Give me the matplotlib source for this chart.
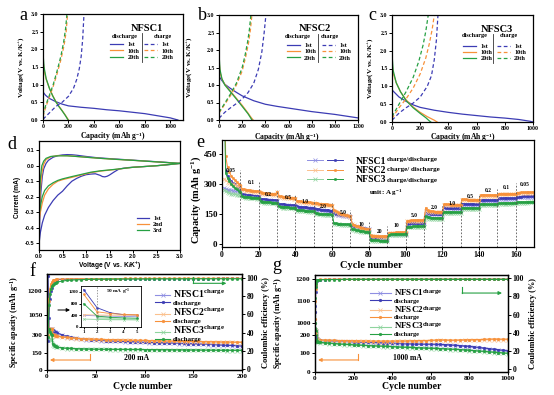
import numpy as np
import matplotlib
matplotlib.use('Agg')
import matplotlib.pyplot as plt
from matplotlib.legend_handler import HandlerTuple

plt.rcParams['font.family'] = ['Liberation Serif', 'DejaVu Serif']
plt.rcParams['font.weight'] = 'bold'
plt.rcParams['axes.labelweight'] = 'bold'
plt.rcParams['mathtext.default'] = 'regular'
plt.rcParams['axes.linewidth'] = 0.9

BLUE, ORANGE, GREEN = '#3c3cb4', '#f7913a', '#26a043'
BLUE_L, ORANGE_L, GREEN_L = '#8f8fe2', '#fbc18e', '#8fd49e'

# ---------------- data: panel a (NFSC1) ----------------
a_d1_q = [0, 5, 20, 50, 100, 150, 200, 300, 400, 500, 600, 700, 800, 900, 1000, 1060]
a_d1_v = [0.80, 0.77, 0.70, 0.61, 0.52, 0.45, 0.40, 0.36, 0.33, 0.29, 0.26, 0.22, 0.18, 0.12, 0.06, 0.0]
a_d10_q = [0, 3, 10, 25, 50, 75, 100, 125, 150, 175, 195, 200]
a_d10_v = [1.85, 1.6, 1.38, 1.15, 0.9, 0.7, 0.53, 0.39, 0.27, 0.14, 0.03, 0.0]
a_d20_q = [0, 2, 8, 25, 50, 75, 100, 125, 150, 175, 192, 197]
a_d20_v = [2.22, 1.8, 1.5, 1.17, 0.9, 0.69, 0.52, 0.38, 0.26, 0.13, 0.03, 0.0]
a_c1_q = [0, 50, 100, 150, 200, 240, 265, 285, 300, 312, 322]
a_c1_v = [0.02, 0.2, 0.38, 0.5, 0.67, 0.9, 1.15, 1.45, 1.8, 2.3, 3.0]
a_c10_q = [0, 20, 50, 80, 110, 140, 165, 182, 193]
a_c10_v = [0.1, 0.35, 0.65, 0.95, 1.3, 1.7, 2.1, 2.5, 3.0]
a_c20_q = [0, 20, 50, 80, 110, 140, 162, 178, 188]
a_c20_v = [0.15, 0.4, 0.7, 1.0, 1.38, 1.8, 2.2, 2.6, 3.0]

# ---------------- data: panel b (NFSC2) ----------------
b_d1_q = [0, 20, 50, 100, 150, 200, 300, 400, 500, 600, 700, 800, 900, 1000, 1100, 1200]
b_d1_v = [1.25, 1.15, 1.02, 0.9, 0.79, 0.69, 0.55, 0.45, 0.39, 0.34, 0.29, 0.24, 0.2, 0.16, 0.11, 0.06]
b_d10_q = [0, 3, 10, 25, 50, 100, 150, 200, 250, 280, 295]
b_d10_v = [2.0, 1.6, 1.35, 1.17, 1.02, 0.82, 0.62, 0.42, 0.2, 0.06, 0.0]
b_d20_q = [0, 2, 8, 25, 50, 100, 150, 200, 250, 275, 285]
b_d20_v = [2.25, 1.8, 1.45, 1.18, 1.0, 0.8, 0.6, 0.39, 0.18, 0.05, 0.0]
b_c1_q = [0, 50, 100, 150, 200, 250, 300, 340, 370, 390, 405]
b_c1_v = [0.05, 0.22, 0.35, 0.47, 0.6, 0.78, 1.05, 1.45, 1.95, 2.5, 3.0]
b_c10_q = [0, 50, 100, 150, 200, 230, 255, 272, 284]
b_c10_v = [0.2, 0.45, 0.7, 1.0, 1.4, 1.8, 2.2, 2.6, 3.0]
b_c20_q = [0, 50, 100, 150, 200, 225, 248, 263, 275]
b_c20_v = [0.22, 0.48, 0.75, 1.05, 1.5, 1.85, 2.25, 2.6, 3.0]

# ---------------- data: panel c (NFSC3) ----------------
c_d1_q = [0, 25, 50, 100, 150, 200, 300, 400, 500, 600, 700, 800, 900, 980, 1000]
c_d1_v = [0.9, 0.8, 0.7, 0.58, 0.48, 0.41, 0.33, 0.27, 0.22, 0.18, 0.14, 0.11, 0.07, 0.02, 0.0]
c_d10_q = [0, 3, 10, 30, 60, 100, 150, 200, 250, 300, 320]
c_d10_v = [1.9, 1.55, 1.35, 1.1, 0.85, 0.62, 0.42, 0.27, 0.15, 0.05, 0.0]
c_d20_q = [0, 2, 8, 30, 60, 100, 150, 200, 240, 265, 275]
c_d20_v = [2.25, 1.8, 1.45, 1.1, 0.85, 0.6, 0.4, 0.24, 0.12, 0.03, 0.0]
c_c1_q = [0, 50, 100, 150, 200, 250, 280, 300, 315, 326]
c_c1_v = [0.05, 0.25, 0.4, 0.53, 0.7, 1.0, 1.3, 1.75, 2.3, 3.0]
c_c10_q = [0, 50, 100, 150, 200, 240, 265, 285, 300]
c_c10_v = [0.1, 0.4, 0.65, 0.95, 1.35, 1.8, 2.2, 2.6, 3.0]
c_c20_q = [0, 50, 100, 150, 190, 220, 240, 257]
c_c20_v = [0.15, 0.5, 0.85, 1.25, 1.7, 2.15, 2.55, 3.0]

# ---------------- data: panel d (CV) ----------------
d1_v = [3.0, 2.7, 2.4, 2.1, 1.9, 1.8, 1.7, 1.6, 1.5, 1.45, 1.4, 1.35, 1.3, 1.2, 1.1, 1.0, 0.9, 0.8, 0.7, 0.6,
        0.5, 0.4, 0.3, 0.2, 0.12, 0.07, 0.03, 0.01, 0.0, 0.01, 0.02, 0.04, 0.07, 0.1, 0.15, 0.2, 0.3, 0.4, 0.5, 0.6,
        0.7, 0.8, 0.9, 1.0, 1.2, 1.5, 1.8, 2.1, 2.4, 2.7, 3.0]
d1_i = [0.015, 0.005, -0.002, -0.008, -0.012, -0.016, -0.022, -0.04, -0.06, -0.068, -0.072, -0.07, -0.062, -0.052, -0.054, -0.058, -0.068, -0.082, -0.10, -0.13,
        -0.165, -0.19, -0.225, -0.27, -0.32, -0.37, -0.43, -0.48, -0.51, -0.42, -0.3, -0.17, -0.07, -0.02, 0.015, 0.035, 0.055, 0.065, 0.07, 0.072,
        0.071, 0.068, 0.064, 0.06, 0.053, 0.046, 0.04, 0.034, 0.028, 0.022, 0.015]
d2_v = [3.0, 2.5, 2.0, 1.6, 1.3, 1.1, 0.9, 0.7, 0.5, 0.4, 0.3, 0.2, 0.12, 0.07, 0.03, 0.0,
        0.01, 0.03, 0.06, 0.1, 0.15, 0.25, 0.4, 0.6, 0.8, 1.0, 1.3, 1.6, 2.0, 2.5, 3.0]
d2_i = [0.015, 0.0, -0.01, -0.025, -0.035, -0.045, -0.06, -0.075, -0.09, -0.10, -0.12, -0.15, -0.19, -0.24, -0.30, -0.37,
        -0.28, -0.15, -0.05, 0.01, 0.04, 0.058, 0.066, 0.065, 0.06, 0.055, 0.048, 0.042, 0.035, 0.025, 0.015]
d3_v = [3.0, 2.5, 2.0, 1.6, 1.3, 1.1, 0.9, 0.7, 0.5, 0.4, 0.3, 0.2, 0.12, 0.07, 0.03, 0.0,
        0.01, 0.03, 0.06, 0.1, 0.15, 0.25, 0.4, 0.6, 0.8, 1.0, 1.3, 1.6, 2.0, 2.5, 3.0]
d3_i = [0.015, 0.0, -0.01, -0.024, -0.033, -0.042, -0.056, -0.07, -0.085, -0.095, -0.11, -0.13, -0.16, -0.2, -0.26, -0.32,
        -0.2, -0.08, 0.0, 0.03, 0.048, 0.06, 0.064, 0.064, 0.06, 0.055, 0.048, 0.042, 0.035, 0.025, 0.015]

# ---------------- data: panel e (rate) ----------------
e_rates = ['0.05', '0.1', '0.2', '0.5', '1.0', '2.0', '5.0', '10', '20', '10', '5.0', '2.0', '1.0', '0.5', '0.2', '0.1', '0.05']
e_d1 = [1290, 365, 340, 325, 315, 305, 298, 290, 285, 280,
        250, 248, 246, 245, 244, 243, 242, 241, 240, 240,
        226, 225, 224, 223, 222, 221, 220, 219, 219, 218,
        201, 200, 199, 198, 197, 196, 195, 194, 194, 193,
        188, 187, 186, 185, 184, 183, 182, 181, 181, 180,
        176, 175, 173, 172, 171, 170, 169, 168, 167, 166,
        155, 152, 150, 148, 146, 145, 143, 142, 140, 139,
        96, 92, 89, 86, 84, 82, 80, 78, 77, 76,
        33, 31, 30, 30, 29, 29, 29, 28, 28, 28,
        50, 51, 51, 51, 51, 52, 52, 52, 52, 52,
        101, 102, 103, 103, 104, 104, 104, 105, 105, 105,
        165, 155, 153, 152, 152, 151, 151, 151, 150, 150,
        183, 182, 182, 182, 181, 181, 181, 181, 180, 180,
        201, 201, 200, 200, 200, 200, 199, 199, 199, 199,
        220, 220, 220, 220, 220, 219, 219, 219, 219, 219,
        228, 228, 228, 229, 229, 229, 229, 229, 229, 229,
        236, 237, 237, 238, 238, 238, 239, 239, 239, 240]
e_c1 = [280, 276, 272, 270, 268, 266, 265, 263, 262, 260,
        244, 243, 242, 241, 240, 239, 238, 238, 237, 237,
        222, 221, 220, 219, 218, 218, 217, 216, 216, 215,
        197, 196, 195, 194, 193, 193, 192, 191, 191, 190,
        184, 183, 182, 181, 180, 180, 179, 178, 178, 177,
        172, 171, 170, 169, 168, 167, 166, 165, 165, 164,
        150, 148, 146, 145, 143, 142, 141, 140, 138, 137,
        92, 89, 86, 84, 82, 80, 78, 77, 76, 75,
        30, 29, 28, 28, 28, 27, 27, 27, 27, 27,
        48, 49, 49, 50, 50, 50, 50, 51, 51, 51,
        98, 100, 101, 101, 102, 102, 102, 103, 103, 103,
        150, 150, 150, 149, 149, 149, 149, 148, 148, 148,
        178, 178, 178, 178, 178, 177, 177, 177, 177, 177,
        196, 196, 196, 196, 196, 196, 196, 196, 195, 195,
        216, 216, 216, 216, 216, 216, 216, 216, 216, 216,
        225, 225, 225, 226, 226, 226, 226, 226, 226, 226,
        233, 234, 234, 235, 235, 235, 236, 236, 236, 237]
e_d2 = [1150, 440, 385, 358, 342, 330, 320, 310, 302, 296,
        276, 274, 272, 270, 268, 267, 266, 265, 264, 263,
        258, 256, 255, 254, 253, 252, 251, 251, 250, 262,
        240, 238, 236, 235, 234, 233, 232, 231, 230, 229,
        216, 215, 213, 212, 211, 210, 209, 208, 207, 206,
        204, 203, 202, 201, 200, 199, 198, 197, 196, 195,
        168, 164, 160, 156, 152, 149, 146, 143, 141, 139,
        102, 97, 92, 88, 85, 82, 79, 77, 75, 74,
        43, 41, 40, 40, 39, 39, 39, 38, 38, 38,
        56, 57, 57, 57, 58, 58, 58, 58, 58, 58,
        116, 117, 118, 118, 119, 119, 119, 120, 120, 120,
        182, 168, 165, 164, 163, 162, 162, 161, 161, 160,
        200, 199, 198, 198, 197, 197, 196, 196, 196, 195,
        224, 223, 223, 222, 222, 222, 221, 221, 221, 220,
        246, 246, 245, 245, 245, 245, 244, 244, 244, 244,
        252, 252, 252, 252, 252, 252, 252, 252, 252, 252,
        257, 257, 258, 258, 258, 258, 259, 259, 259, 259]
e_c2 = [325, 318, 312, 306, 302, 298, 295, 292, 289, 287,
        270, 268, 266, 265, 264, 263, 262, 261, 260, 260,
        254, 252, 251, 250, 249, 248, 248, 247, 247, 258,
        236, 234, 233, 232, 231, 230, 229, 228, 227, 226,
        212, 211, 210, 209, 208, 207, 206, 205, 204, 203,
        200, 199, 198, 197, 196, 195, 194, 193, 193, 192,
        163, 159, 156, 152, 149, 146, 143, 141, 139, 137,
        98, 93, 89, 85, 82, 79, 77, 75, 73, 72,
        40, 39, 38, 38, 37, 37, 37, 36, 36, 36,
        54, 55, 55, 55, 56, 56, 56, 56, 56, 56,
        113, 114, 115, 115, 116, 116, 116, 117, 117, 117,
        165, 163, 162, 161, 160, 159, 159, 158, 158, 158,
        196, 195, 195, 194, 194, 194, 193, 193, 193, 192,
        220, 219, 219, 219, 218, 218, 218, 218, 217, 217,
        242, 242, 242, 241, 241, 241, 241, 241, 241, 241,
        249, 249, 249, 249, 249, 249, 249, 249, 249, 249,
        254, 254, 255, 255, 255, 255, 256, 256, 256, 256]
e_d3 = [800, 355, 330, 313, 300, 290, 281, 273, 266, 260,
        238, 236, 235, 234, 233, 232, 231, 231, 230, 230,
        213, 212, 211, 210, 209, 208, 207, 206, 206, 205,
        188, 187, 186, 185, 184, 183, 182, 181, 181, 180,
        171, 170, 169, 168, 167, 166, 165, 164, 164, 163,
        154, 153, 152, 151, 150, 150, 149, 148, 148, 147,
        104, 103, 102, 101, 100, 99, 99, 98, 98, 97,
        76, 73, 70, 68, 66, 64, 63, 62, 61, 60,
        20, 19, 18, 18, 18, 17, 17, 17, 17, 17,
        47, 48, 48, 48, 48, 49, 49, 49, 49, 49,
        86, 87, 87, 88, 88, 88, 88, 89, 89, 89,
        140, 134, 133, 132, 132, 131, 131, 130, 130, 130,
        161, 161, 160, 160, 160, 160, 160, 159, 159, 159,
        181, 181, 180, 180, 180, 180, 180, 180, 179, 179,
        199, 199, 199, 198, 198, 198, 198, 198, 198, 198,
        204, 204, 205, 205, 205, 205, 205, 205, 206, 206,
        209, 209, 210, 210, 210, 210, 211, 211, 211, 211]
e_c3 = [272, 264, 259, 255, 252, 250, 248, 246, 245, 244,
        234, 233, 232, 231, 230, 229, 228, 228, 227, 227,
        209, 208, 207, 206, 205, 205, 204, 203, 203, 202,
        184, 183, 182, 181, 180, 180, 179, 178, 178, 177,
        167, 166, 165, 164, 164, 163, 162, 162, 161, 161,
        150, 149, 148, 148, 147, 147, 146, 146, 145, 145,
        100, 99, 98, 98, 97, 97, 96, 96, 95, 95,
        72, 70, 67, 65, 63, 62, 61, 60, 59, 58,
        18, 17, 16, 16, 16, 16, 15, 15, 15, 15,
        45, 46, 46, 46, 47, 47, 47, 47, 47, 47,
        83, 84, 84, 85, 85, 85, 86, 86, 86, 86,
        128, 128, 127, 127, 127, 127, 127, 127, 127, 127,
        157, 157, 157, 157, 157, 157, 156, 156, 156, 156,
        177, 177, 177, 177, 177, 177, 176, 176, 176, 176,
        195, 195, 195, 195, 195, 195, 195, 195, 195, 195,
        201, 201, 202, 202, 202, 202, 202, 202, 203, 203,
        206, 206, 207, 207, 207, 207, 208, 208, 208, 208]

# ---------------- data: panel f (200 mA cycling) ----------------
cyc_f = [1, 2, 3, 4, 5, 6, 7, 8, 9, 10] + list(range(15, 201, 5))
f_d1 = [1290, 680, 480, 420, 400, 345, 335, 330, 326, 322,
        305, 292, 282, 275, 270, 265, 262, 259, 256, 254,
        252, 250, 248, 246, 245, 243, 241, 240, 238, 237,
        236, 234, 233, 232, 230, 229, 228, 226, 225, 223,
        222, 220, 218, 216, 214, 212, 210, 208]
f_c1 = [400, 380, 370, 360, 350, 335, 328, 324, 320, 317,
        300, 288, 279, 272, 267, 263, 260, 257, 254, 252,
        250, 248, 246, 244, 243, 241, 239, 238, 236, 235,
        234, 232, 231, 230, 228, 227, 226, 224, 223, 221,
        220, 218, 216, 214, 212, 210, 208, 206]
f_d2 = [1150, 540, 470, 430, 420, 310, 303, 299, 296, 294,
        286, 281, 277, 274, 271, 269, 267, 266, 264, 263,
        262, 261, 260, 259, 258, 257, 256, 255, 254, 253,
        252, 251, 250, 250, 249, 248, 247, 246, 246, 245,
        244, 244, 243, 242, 242, 241, 240, 240]
f_c2 = [420, 420, 410, 400, 400, 305, 299, 295, 293, 291,
        283, 278, 274, 271, 268, 266, 264, 263, 261, 260,
        259, 258, 257, 256, 255, 254, 253, 252, 251, 250,
        249, 248, 247, 247, 246, 245, 244, 243, 243, 242,
        241, 241, 240, 239, 239, 238, 237, 237]
f_d3 = [800, 370, 330, 310, 300, 225, 215, 208, 203, 199,
        192, 188, 186, 184, 183, 182, 181, 180, 180, 179,
        179, 178, 178, 178, 177, 177, 177, 176, 176, 176,
        175, 175, 175, 174, 174, 174, 173, 173, 173, 172,
        172, 172, 171, 171, 171, 170, 170, 170]
f_c3 = [280, 270, 270, 260, 260, 218, 210, 204, 200, 196,
        189, 185, 183, 181, 180, 179, 178, 178, 177, 177,
        176, 176, 176, 175, 175, 175, 174, 174, 174, 173,
        173, 173, 172, 172, 172, 171, 171, 171, 170, 170,
        170, 169, 169, 169, 168, 168, 168, 168]
f_ce1 = [31, 56, 77, 86, 89, 96.5, 97.3, 97.8, 98.0, 98.2,
         98.4, 98.5, 98.6, 98.7, 98.7, 98.8, 98.8, 98.9, 98.9, 98.9,
         99.0, 99.0, 99.0, 99.0, 99.1, 99.1, 99.1, 99.1, 99.1, 99.2,
         99.2, 99.2, 99.2, 99.2, 99.2, 99.3, 99.3, 99.3, 99.3, 99.3,
         99.3, 99.3, 99.4, 99.4, 99.4, 99.4, 99.4, 99.4]
f_ce2 = [37, 75, 88, 93, 95.5, 97.2, 97.8, 98.2, 98.4, 98.6,
         98.8, 98.9, 99.0, 99.0, 99.1, 99.1, 99.2, 99.2, 99.2, 99.3,
         99.3, 99.3, 99.3, 99.4, 99.4, 99.4, 99.4, 99.4, 99.4, 99.5,
         99.5, 99.5, 99.5, 99.5, 99.5, 99.5, 99.5, 99.5, 99.5, 99.5,
         99.5, 99.5, 99.5, 99.5, 99.5, 99.5, 99.5, 99.5]
f_ce3 = [35, 70, 82, 88, 91, 92.5, 93.5, 94.2, 94.8, 95.3,
         96.5, 97.2, 97.6, 97.9, 98.1, 98.3, 98.4, 98.5, 98.6, 98.6,
         98.7, 98.7, 98.8, 98.8, 98.8, 98.9, 98.9, 98.9, 98.9, 99.0,
         99.0, 99.0, 99.0, 99.0, 99.0, 99.0, 99.1, 99.1, 99.1, 99.1,
         99.1, 99.1, 99.1, 99.1, 99.1, 99.1, 99.1, 99.1]
ins_x = [1, 2, 3, 4, 5]
ins_d1 = [1280, 660, 485, 420, 400]
ins_c1 = [400, 380, 370, 360, 350]
ins_d2 = [1120, 520, 460, 430, 420]
ins_c2 = [420, 410, 405, 400, 400]
ins_d3 = [800, 370, 330, 310, 300]
ins_c3 = [270, 260, 250, 250, 245]

# ---------------- data: panel g (1000 mA cycling) ----------------
cyc_g = [1, 2, 3, 4, 5, 6, 8, 10, 15, 25] + list(range(50, 1001, 25))
g_d1 = [1050, 420, 260, 215, 200, 190, 180, 175, 172, 170,
        168, 167, 166, 165, 164, 163, 162, 161, 160, 159,
        158, 157, 156, 155, 154, 153, 152, 151, 151, 150,
        150, 149, 149, 148, 147, 146, 145, 143, 141, 139,
        137, 134, 131, 128, 125, 122, 119, 116, 113]
g_c1 = [400, 350, 240, 205, 193, 186, 177, 172, 169, 167,
        165, 164, 163, 162, 161, 160, 159, 158, 157, 156,
        155, 154, 153, 152, 151, 150, 149, 148, 148, 147,
        147, 146, 146, 145, 144, 143, 142, 140, 138, 136,
        134, 131, 128, 125, 122, 119, 116, 113, 110]
g_d2 = [1020, 400, 250, 210, 195, 185, 178, 174, 172, 171,
        170, 169, 169, 168, 168, 167, 167, 166, 166, 166,
        165, 165, 165, 165, 165, 166, 166, 166, 167, 167,
        168, 168, 169, 170, 172, 171, 170, 170, 171, 172,
        172, 173, 173, 174, 175, 176, 175, 175, 175]
g_c2 = [400, 380, 240, 205, 190, 181, 175, 171, 169, 168,
        167, 166, 166, 165, 165, 164, 164, 163, 163, 163,
        162, 162, 162, 162, 162, 163, 163, 163, 164, 164,
        165, 165, 166, 167, 169, 168, 167, 167, 168, 169,
        169, 170, 170, 171, 172, 173, 172, 172, 172]
g_d3 = [1000, 380, 230, 195, 180, 172, 166, 162, 160, 158,
        156, 154, 152, 150, 148, 147, 145, 144, 143, 141,
        140, 139, 138, 137, 136, 134, 133, 132, 131, 130,
        129, 128, 127, 126, 125, 124, 122, 121, 120, 118,
        116, 114, 112, 110, 108, 106, 104, 102, 100]
g_c3 = [280, 300, 215, 188, 175, 168, 163, 160, 158, 156,
        154, 152, 150, 148, 146, 145, 143, 142, 141, 139,
        138, 137, 136, 135, 134, 132, 131, 130, 129, 128,
        127, 126, 125, 124, 123, 122, 120, 119, 118, 116,
        114, 112, 110, 108, 106, 104, 102, 100, 98]
g_ce1 = [35, 70, 85, 92, 95, 96.5, 97.5, 98.0, 98.3, 98.5,
         98.6, 98.7, 98.7, 98.8, 98.8, 98.8, 98.9, 98.9, 98.9, 98.9,
         99.0, 99.0, 99.0, 99.0, 99.0, 99.0, 99.0, 99.0, 99.0, 99.0,
         99.0, 99.0, 99.0, 99.0, 99.0, 99.0, 99.0, 99.0, 99.0, 99.0,
         99.0, 99.0, 99.0, 99.0, 99.0, 99.0, 99.0, 99.0, 99.0]
g_ce2 = [40, 75, 88, 93, 95.5, 97.0, 97.8, 98.2, 98.5, 98.7,
         98.8, 98.9, 98.9, 99.0, 99.0, 99.0, 99.1, 99.1, 99.1, 99.1,
         99.1, 99.1, 99.1, 99.1, 99.1, 99.1, 99.1, 99.1, 99.1, 99.1,
         99.1, 99.1, 99.1, 99.1, 99.1, 99.1, 99.1, 99.1, 99.1, 99.1,
         99.1, 99.1, 99.1, 99.1, 99.1, 99.1, 99.1, 99.1, 99.1]
g_ce3 = [45, 78, 90, 94, 96, 97.0, 97.8, 98.2, 98.4, 98.5,
         98.5, 98.6, 98.6, 98.6, 98.7, 98.7, 98.7, 98.7, 98.7, 98.7,
         98.7, 98.7, 98.7, 98.7, 98.7, 98.7, 98.7, 98.7, 98.7, 98.7,
         98.7, 98.7, 98.7, 98.7, 98.7, 98.7, 98.7, 98.7, 98.7, 98.7,
         98.7, 98.7, 98.7, 98.7, 98.7, 98.7, 98.7, 98.7, 98.7]

# ---------------- figure ----------------
W, H = 554, 395
fig = plt.figure(figsize=(W / 100, H / 100), dpi=100)


def add_ax(x0, y0, x1, y1):
    ax = fig.add_axes([x0 / W, 1 - y1 / H, (x1 - x0) / W, (y1 - y0) / H])
    ax.patch.set_alpha(0)
    return ax


SERIF = 'Liberation Serif'
SANS = 'Liberation Sans'


def style_ticks(ax, size, family=SERIF):
    ax.tick_params(direction='out', length=2, width=0.7, pad=1.2, labelsize=size)
    for lab in ax.get_xticklabels() + ax.get_yticklabels():
        lab.set_family(family)
        lab.set_weight('bold')


def voltage_panel(rect, xmax, xticks, name, curves, lay):
    ax = add_ax(*rect)
    ax.set_xlim(0, xmax)
    ax.set_ylim(0, 3.0)
    ax.set_xticks(xticks)
    ax.set_yticks([0, 0.5, 1.0, 1.5, 2.0, 2.5, 3.0])
    ax.set_yticklabels(['0.0', '0.5', '1.0', '1.5', '2.0', '2.5', '3.0'])
    hd, hc = [], []
    for q, v, col, ls in curves:
        ln, = ax.plot(q, v, color=col, lw=0.9, ls=ls)
        (hd if ls == '-' else hc).append(ln)
    style_ticks(ax, 4.2)
    ax.set_xlabel('Capacity (mAh g$^{-1}$)', fontsize=5.5)
    ax.set_ylabel('Voltage(V vs. K/K$^{+}$)', fontsize=5)
    ax.xaxis.set_label_coords(lay['xl'][0], lay['xl'][1])
    ax.yaxis.set_label_coords(lay['yl'], 0.5)
    prop = {'family': SERIF, 'weight': 'bold', 'size': 4.5}
    kw = dict(frameon=False, loc='center left', handlelength=2.1, handletextpad=0.7,
              labelspacing=0.13, borderpad=0, borderaxespad=0, prop=prop)
    l1 = ax.legend(hd, ['1st', '10th', '20th'], bbox_to_anchor=(lay['l1'], lay['ymid']), **kw)
    ax.add_artist(l1)
    ax.legend(hc, ['1st', '10th', '20th'], bbox_to_anchor=(lay['l2'], lay['ymid']), **kw)
    ax.text(lay['title'][0], lay['title'][1], name, transform=ax.transAxes, ha='center', va='center',
            fontsize=7.5, fontweight='bold')
    ax.text(lay['hd'][0], lay['hd'][2], 'discharge', transform=ax.transAxes, ha='center', va='center', fontsize=4.5)
    ax.text(lay['hd'][1], lay['hd'][2], 'charge', transform=ax.transAxes, ha='center', va='center', fontsize=4.5)
    ax.plot([lay['div'], lay['div']], [0.55, 0.82], transform=ax.transAxes, color='#333333', lw=0.6)
    return ax


DS = (0, (3, 2))
voltage_panel((43, 14, 183, 120), 1100, [0, 200, 400, 600, 800, 1000], 'NFSC1',
              [(a_d1_q, a_d1_v, BLUE, '-'), (a_d10_q, a_d10_v, ORANGE, '-'), (a_d20_q, a_d20_v, GREEN, '-'),
               (a_c1_q, a_c1_v, BLUE, DS), (a_c10_q, a_c10_v, ORANGE, DS), (a_c20_q, a_c20_v, GREEN, DS)],
              dict(xl=(0.5, -0.099), yl=-0.125, l1=0.479, l2=0.72, ymid=0.651, title=(0.743, 0.86),
                   hd=(0.58, 0.857, 0.79), div=0.707))
voltage_panel((219, 15, 358, 120), 1200, [0, 200, 400, 600, 800, 1000, 1200], 'NFSC2',
              [(b_d1_q, b_d1_v, BLUE, '-'), (b_d10_q, b_d10_v, ORANGE, '-'), (b_d20_q, b_d20_v, GREEN, '-'),
               (b_c1_q, b_c1_v, BLUE, DS), (b_c10_q, b_c10_v, ORANGE, DS), (b_c20_q, b_c20_v, GREEN, DS)],
              dict(xl=(0.487, -0.105), yl=-0.18, l1=0.487, l2=0.739, ymid=0.65, title=(0.69, 0.867),
                   hd=(0.566, 0.8, 0.8), div=0.715))
voltage_panel((392, 15, 533, 122), 1000, [0, 200, 400, 600, 800, 1000], 'NFSC3',
              [(c_d1_q, c_d1_v, BLUE, '-'), (c_d10_q, c_d10_v, ORANGE, '-'), (c_d20_q, c_d20_v, GREEN, '-'),
               (c_c1_q, c_c1_v, BLUE, DS), (c_c10_q, c_c10_v, ORANGE, DS), (c_c20_q, c_c20_v, GREEN, DS)],
              dict(xl=(0.5, -0.084), yl=-0.124, l1=0.506, l2=0.743, ymid=0.651, title=(0.742, 0.866),
                   hd=(0.589, 0.825, 0.804), div=0.719))

# ---------------- panel d ----------------
ax_d = add_ax(39, 141, 180, 250)
h1, = ax_d.plot(d1_v, d1_i, color=BLUE, lw=0.9)
h2, = ax_d.plot(d2_v, d2_i, color=ORANGE, lw=0.9)
h3, = ax_d.plot(d3_v, d3_i, color=GREEN, lw=0.9)
ax_d.set_xlim(0, 3.0)
ax_d.set_ylim(-0.545, 0.16)
ax_d.set_xticks([0, 0.5, 1.0, 1.5, 2.0, 2.5, 3.0])
ax_d.set_xticklabels(['0.0', '0.5', '1.0', '1.5', '2.0', '2.5', '3.0'])
ax_d.set_yticks([-0.5, -0.4, -0.3, -0.2, -0.1, 0.0, 0.1])
ax_d.set_yticklabels(['-0.5', '-0.4', '-0.3', '-0.2', '-0.1', '0.0', '0.1'])
style_ticks(ax_d, 4, SANS)
ax_d.set_xlabel('Voltage (V vs. K/K$^{+}$)', fontsize=4.8, family=SANS)
ax_d.set_ylabel('Current (mA)', fontsize=4.8, family=SANS)
ax_d.xaxis.set_label_coords(0.5, -0.087)
ax_d.yaxis.set_label_coords(-0.128, 0.48)
ax_d.legend([h1, h2, h3], ['1st', '2nd', '3rd'], frameon=False, loc='center left',
            bbox_to_anchor=(0.693, 0.235), handlelength=1.9, handletextpad=0.7, labelspacing=0.13,
            borderpad=0, borderaxespad=0, prop={'family': SERIF, 'weight': 'bold', 'size': 4.5})

# ---------------- panel e ----------------
ax_e = add_ax(222, 140, 534, 247)
cyc_e = list(range(1, 171))
e_handles = []
for c, d, cl, cd in [(e_c1, e_d1, BLUE_L, BLUE), (e_c2, e_d2, ORANGE_L, ORANGE), (e_c3, e_d3, GREEN_L, GREEN)]:
    lc, = ax_e.plot(cyc_e, c, marker='x', ms=2.2, mew=0.5, lw=0.7, color=cl)
    ld, = ax_e.plot(cyc_e, d, marker='o', ms=1.8, mew=0.3, lw=0.7, color=cd)
    e_handles.append((lc, ld))
ax_e.set_xlim(0, 170)
ax_e.set_ylim(-15, 520)
ax_e.set_xticks(range(0, 161, 20))
ax_e.set_yticks([0, 150, 300, 450])
bounds = [10, 20, 30, 40, 50, 60, 70, 80, 90, 100, 110, 120, 130, 140, 150, 160]
tops = [370, 312, 270, 245, 222, 205, 172, 110, 88, 105, 148, 188, 220, 250, 275, 305]
ax_e.vlines(bounds, -15, tops, colors='#555555', linestyles=(0, (2, 2)), lw=0.6)
lab_x = [4.5, 15.8, 25.4, 36, 45, 55, 66, 76, 86, 95, 105, 115.5, 125.5, 135, 145, 155, 165]
lab_y = [370, 307, 250, 233, 212, 187, 157, 95, 62, 92, 142, 182, 203, 237, 265, 283, 295]
for x, y, t in zip(lab_x, lab_y, e_rates):
    ax_e.text(x, y, t, ha='center', va='center', fontsize=4, fontweight='bold')
style_ticks(ax_e, 5.5)
ax_e.tick_params(axis='y', labelsize=6.5)
ax_e.set_xlabel('Cycle number', fontsize=7.5)
ax_e.set_ylabel('Capacity (mAh g$^{-1}$)', fontsize=7.5)
ax_e.xaxis.set_label_coords(0.48, -0.127)
ax_e.yaxis.set_label_coords(-0.061, 0.445)
ax_e.legend(e_handles, ['NFSC1', 'NFSC2', 'NFSC3'], handler_map={tuple: HandlerTuple(ndivide=None, pad=0.4)},
            frameon=False, loc='center left', bbox_to_anchor=(0.271, 0.715), handlelength=3.8,
            handletextpad=1.3, labelspacing=0.05, borderpad=0, borderaxespad=0,
            prop={'family': SERIF, 'weight': 'bold', 'size': 7})
for yy, t in zip([0.83, 0.73, 0.63], ['charge/discharge', 'charge/ discharge', 'charge/discharge']):
    ax_e.text(0.528, yy - 0.01, t, transform=ax_e.transAxes, ha='left', va='center', fontsize=5)
ax_e.text(0.526, 0.51, 'unit: A g$^{-1}$', transform=ax_e.transAxes, ha='center', va='center', fontsize=5)


# ---------------- broken scale helper ----------------
def make_break(lo, hi, gap, k):
    def fwd(y):
        y = np.asarray(y, float)
        return np.where(y <= lo, y, np.where(y < hi, lo + (y - lo) * gap / (hi - lo), lo + gap + (y - hi) * k))

    def inv(u):
        u = np.asarray(u, float)
        return np.where(u <= lo, u, np.where(u < lo + gap, lo + (u - lo) * (hi - lo) / gap, hi + (u - lo - gap) / k))
    return fwd, inv


def cycling_panel(rect, cyc, series, ce, xlim, xticks, yticks, ylim, brk, ylim2, leg, leg_sizes, hlen):
    ax = add_ax(*rect)
    ax.set_yscale('function', functions=make_break(*brk))
    ax2 = ax.twinx()
    hands = []
    for c, d, cl, cd in series:
        lc, = ax.plot(cyc, c, marker='x', ms=2.3, mew=0.5, lw=0.8, color=cl)
        ld, = ax.plot(cyc, d, marker='o', ms=2.0, mew=0.3, lw=0.8, color=cd)
        hands += [lc, ld]
    for vals, col in ce:
        ax2.plot(cyc, vals, marker='o', ms=1.8, mew=0.3, lw=0.8, color=col)
    ax.set_xlim(*xlim)
    ax.set_xticks(xticks)
    ax.set_yticks(yticks)
    ax.yaxis.set_minor_locator(matplotlib.ticker.NullLocator())
    ax.set_ylim(*ylim)
    ax2.set_ylim(*ylim2)
    ax2.set_yticks([0, 20, 40, 60, 80, 100])
    style_ticks(ax, 5.2)
    style_ticks(ax2, 5.5)
    ax.set_xlabel('Cycle number', fontsize=7)
    ax.set_ylabel('Specific apacity (mAh g$^{-1}$)', fontsize=5.8)
    ax2.set_ylabel('Coulombic efficiency (%)', fontsize=6)
    labels = ['NFSC1$^{charge}$', 'discharge', 'NFSC2$^{charge}$', 'discharge', 'NFSC3$^{charge}$', 'discharge']
    lg = ax2.legend(hands, labels, frameon=False, loc='upper left', bbox_to_anchor=leg,
                    handlelength=hlen, handletextpad=0.4, labelspacing=0.0, borderpad=0, borderaxespad=0,
                    prop={'family': SERIF, 'weight': 'bold', 'size': 5})
    for t, s in zip(lg.get_texts(), leg_sizes):
        t.set_fontsize(s)
    return ax, ax2


ax_f, ax_f2 = cycling_panel((47, 274, 242, 370), cyc_f,
                            [(f_c1, f_d1, BLUE_L, BLUE), (f_c2, f_d2, ORANGE_L, ORANGE), (f_c3, f_d3, GREEN_L, GREEN)],
                            [(f_ce1, BLUE), (f_ce2, ORANGE), (f_ce3, GREEN)],
                            (0, 200), [0, 50, 100, 150, 200], [0, 150, 300, 1050, 1200], (0, 1300),
                            (350, 970, 7, 1.4286), (-0.8, 104.3), (0.554, 0.86), [7, 5, 7, 5, 7, 5], 2.2)
ax_f.xaxis.set_label_coords(0.49, -0.12)
ax_f.yaxis.set_label_coords(-0.133, 0.5)
ax_f2.yaxis.set_label_coords(1.105, 0.5)
ax_f2.text(0.46, 0.125, '200 mA', transform=ax_f2.transAxes, ha='center', va='center', fontsize=5.5, fontweight='bold')
ax_f2.plot([0.22, 0.22], [0.167, 0.104], transform=ax_f2.transAxes, color=ORANGE, lw=0.8)
ax_f2.annotate('', xy=(0.015, 0.104), xytext=(0.22, 0.104), xycoords='axes fraction',
               arrowprops=dict(arrowstyle='-|>', color=ORANGE, lw=0.8, mutation_scale=5, shrinkA=0, shrinkB=0))
ax_f2.plot([0.75, 0.75], [0.972, 0.903], transform=ax_f2.transAxes, color=GREEN, lw=0.8)
ax_f2.annotate('', xy=(0.92, 0.903), xytext=(0.75, 0.903), xycoords='axes fraction',
               arrowprops=dict(arrowstyle='-|>', color=GREEN, lw=0.8, mutation_scale=5, shrinkA=0, shrinkB=0))
ax_f2.annotate('', xy=(0.118, 0.625), xytext=(0.056, 0.625), xycoords='axes fraction',
               arrowprops=dict(arrowstyle='-|>', color='k', lw=0.7, mutation_scale=5, shrinkA=0, shrinkB=0))

# inset of f
ax_in = add_ax(81, 286, 141, 327)
ax_in.patch.set_alpha(1)
ax_in.patch.set_facecolor('white')
ax_in.fill_between(ins_x[1:], ins_c3[1:], ins_d3[1:], color=GREEN_L, alpha=0.6, lw=0)
for c, d, cl, cd in [(ins_c1, ins_d1, BLUE_L, BLUE), (ins_c2, ins_d2, ORANGE_L, ORANGE), (ins_c3, ins_d3, GREEN_L, GREEN)]:
    ax_in.plot(ins_x, c, marker='x', ms=1.8, mew=0.4, lw=0.6, color=cl)
    ax_in.plot(ins_x, d, marker='o', ms=1.5, mew=0.3, lw=0.6, color=cd)
ax_in.axvline(2, color='#777777', lw=0.5, ls=(0, (2, 2)))
ax_in.set_xlim(0.8, 5.3)
ax_in.set_ylim(0, 1400)
ax_in.set_xticks([1, 2, 3, 4, 5])
ax_in.set_yticks([0, 400, 800, 1200])
style_ticks(ax_in, 3.5)
ax_in.tick_params(length=1.2, pad=0.8)
for s in ax_in.spines.values():
    s.set_linewidth(0.6)
ax_in.text(0.62, 0.85, '50 mA g$^{-1}$', transform=ax_in.transAxes, ha='center', va='center', fontsize=3.8)

ax_g, ax_g2 = cycling_panel((315, 275, 508, 372), cyc_g,
                            [(g_c1, g_d1, BLUE_L, BLUE), (g_c2, g_d2, ORANGE_L, ORANGE), (g_c3, g_d3, GREEN_L, GREEN)],
                            [(g_ce1, BLUE), (g_ce2, ORANGE), (g_ce3, GREEN)],
                            (0, 1000), [0, 200, 400, 600, 800, 1000], [0, 100, 200, 1000, 1100, 1200], (0, 1220),
                            (220, 980, 15.3, 1.176), (-3, 103.6), (0.285, 0.88), [6.5, 4.5, 6.5, 4.5, 6.5, 4.5], 3.0)
ax_g.xaxis.set_label_coords(0.5, -0.098)
ax_g.yaxis.set_label_coords(-0.153, 0.5)
ax_g2.yaxis.set_label_coords(1.109, 0.5)
ax_g2.text(0.48, 0.144, '1000 mA', transform=ax_g2.transAxes, ha='center', va='center', fontsize=5.5, fontweight='bold')
ax_g2.plot([0.223, 0.223], [0.186, 0.124], transform=ax_g2.transAxes, color=ORANGE, lw=0.8)
ax_g2.annotate('', xy=(0.016, 0.124), xytext=(0.223, 0.124), xycoords='axes fraction',
               arrowprops=dict(arrowstyle='-|>', color=ORANGE, lw=0.8, mutation_scale=5, shrinkA=0, shrinkB=0))
ax_g2.plot([0.762, 0.762], [0.876, 0.814], transform=ax_g2.transAxes, color=GREEN, lw=0.8)
ax_g2.annotate('', xy=(0.969, 0.814), xytext=(0.762, 0.814), xycoords='axes fraction',
               arrowprops=dict(arrowstyle='-|>', color=GREEN, lw=0.8, mutation_scale=5, shrinkA=0, shrinkB=0))

# panel letters
for t, x, y in [('a', 23, 16), ('b', 202, 15), ('c', 372, 16), ('d', 12, 145), ('e', 200, 143),
                ('f', 32, 271), ('g', 277, 266)]:
    fig.text(x / W, 1 - y / H, t, ha='center', va='center', fontsize=13, fontweight='normal', family=SERIF)

fig.savefig('out.png', dpi=100)
